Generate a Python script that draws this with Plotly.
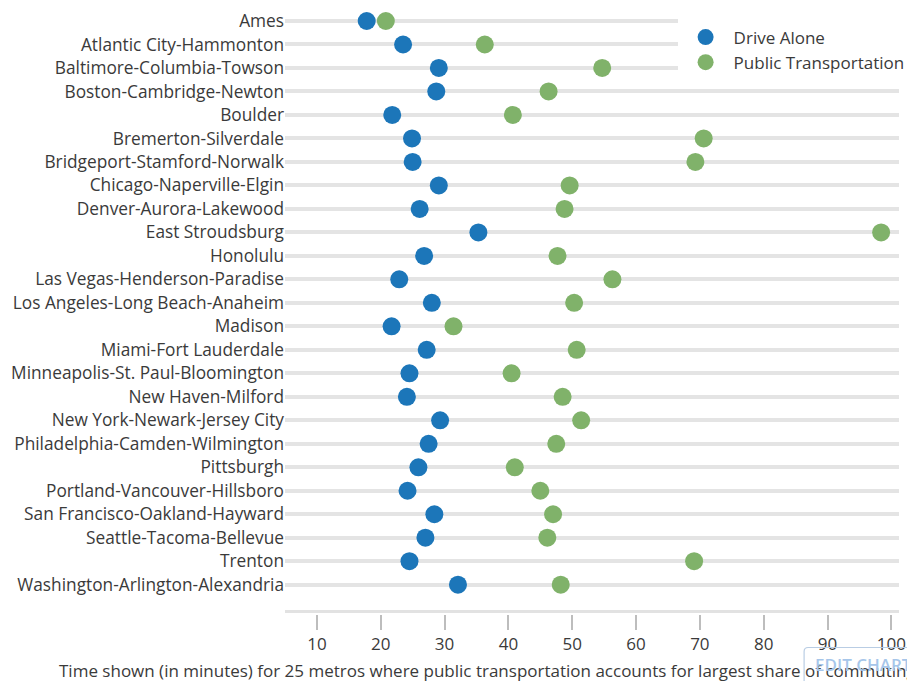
import plotly.graph_objects as go

# Metro areas, top to bottom
metros = [
    "Ames", "Atlantic City-Hammonton", "Baltimore-Columbia-Towson",
    "Boston-Cambridge-Newton", "Boulder", "Bremerton-Silverdale",
    "Bridgeport-Stamford-Norwalk", "Chicago-Naperville-Elgin",
    "Denver-Aurora-Lakewood", "East Stroudsburg", "Honolulu",
    "Las Vegas-Henderson-Paradise", "Los Angeles-Long Beach-Anaheim",
    "Madison", "Miami-Fort Lauderdale", "Minneapolis-St. Paul-Bloomington",
    "New Haven-Milford", "New York-Newark-Jersey City",
    "Philadelphia-Camden-Wilmington", "Pittsburgh",
    "Portland-Vancouver-Hillsboro", "San Francisco-Oakland-Hayward",
    "Seattle-Tacoma-Bellevue", "Trenton", "Washington-Arlington-Alexandria",
]

# Average commute time in minutes
drive_alone = [
    17.8, 23.5, 29.1, 28.7, 21.8, 24.9, 25.0, 29.1, 26.1, 35.3, 26.8, 22.9,
    28.0, 21.7, 27.2, 24.5, 24.1, 29.3, 27.5, 25.9, 24.2, 28.4, 27.0, 24.5,
    32.1,
]
public_transport = [
    20.8, 36.3, 54.7, 46.3, 40.7, 70.6, 69.3, 49.6, 48.8, 98.4, 47.7, 56.3,
    50.3, 31.4, 50.7, 40.5, 48.5, 51.4, 47.5, 41.0, 45.0, 47.0, 46.1, 69.1,
    48.2,
]

x_ticks = [10, 20, 30, 40, 50, 60, 70, 80, 90, 100]

BLUE = "#1c76b9"
GREEN = "#80b26a"
FONT = "Open Sans"
TEXT = "#3a3a3a"

W, H = 907, 681
ML, MR, MT, MB = 285.4, 7.6, 0, 67
PW = W - ML - MR
PH = H - MT - MB


def px_x(px):
    return (px - ML) / PW


def px_y(py):
    return (MT + PH - py) / PH


fig = go.Figure()
fig.add_trace(go.Scatter(
    x=drive_alone, y=metros, mode="markers", name="Drive Alone",
    marker=dict(color=BLUE, size=18, line=dict(width=0)),
    cliponaxis=False,
))
fig.add_trace(go.Scatter(
    x=public_transport, y=metros, mode="markers", name="Public Transportation",
    marker=dict(color=GREEN, size=18, line=dict(width=0)),
    cliponaxis=False,
))

# detached baseline above the x ticks
fig.add_shape(type="line", xref="x", yref="paper",
              x0=5, x1=101.2, y0=px_y(611.5), y1=px_y(611.5),
              line=dict(color="#e2e2e2", width=3), layer="below")

# edit button in the lower right corner
bx0, by0, r = px_x(804.5), px_y(647.5), 4
rx, ry = r / PW, r / PH
bx1, by1 = px_x(990), px_y(720)
fig.add_shape(
    type="path", xref="paper", yref="paper",
    path=(f"M {bx0} {by1} L {bx0} {by0 - ry} Q {bx0} {by0} {bx0 + rx} {by0} "
          f"L {bx1} {by0}"),
    line=dict(color="#b9cde4", width=1.2), layer="above",
)

fig.add_annotation(
    text="Time shown (in minutes) for 25 metros where public transportation "
         "accounts for largest share of commuting",
    xref="paper", yref="paper", x=px_x(57), y=px_y(670),
    xanchor="left", yanchor="middle", showarrow=False,
    font=dict(family=FONT, size=17, color=TEXT),
)
fig.add_annotation(
    text="EDIT CHART", xref="paper", yref="paper",
    x=px_x(813), y=px_y(664), xanchor="left", yanchor="middle",
    showarrow=False,
    font=dict(family=FONT, size=17, color="#a6c6ea", weight=600),
)

fig.update_layout(
    width=W, height=H,
    margin=dict(l=ML, r=MR, t=MT, b=MB, autoexpand=False),
    paper_bgcolor="white", plot_bgcolor="white",
    font=dict(family=FONT, size=17, color=TEXT),
    showlegend=True,
    legend=dict(
        x=px_x(678), y=1, xanchor="left", yanchor="top",
        bgcolor="white", borderwidth=0, itemwidth=46,
        font=dict(family=FONT, size=17, color=TEXT),
        title=dict(text=" ", font=dict(size=15)),
    ),
    xaxis=dict(
        range=[5, 101.2], tickvals=x_ticks, ticks="outside", ticklen=15,
        tickwidth=2, tickcolor="#bdbdbd", showgrid=False, zeroline=False,
        showline=False, tickfont=dict(family=FONT, size=17, color=TEXT),
    ),
    yaxis=dict(
        type="category", categoryorder="array", categoryarray=metros,
        range=[25.247, -0.894], showgrid=True, gridcolor="#e4e4e4",
        gridwidth=4, zeroline=False, showline=False, ticks="",
        tickfont=dict(family=FONT, size=17.3, color=TEXT),
    ),
)

fig.write_html("out.html")
